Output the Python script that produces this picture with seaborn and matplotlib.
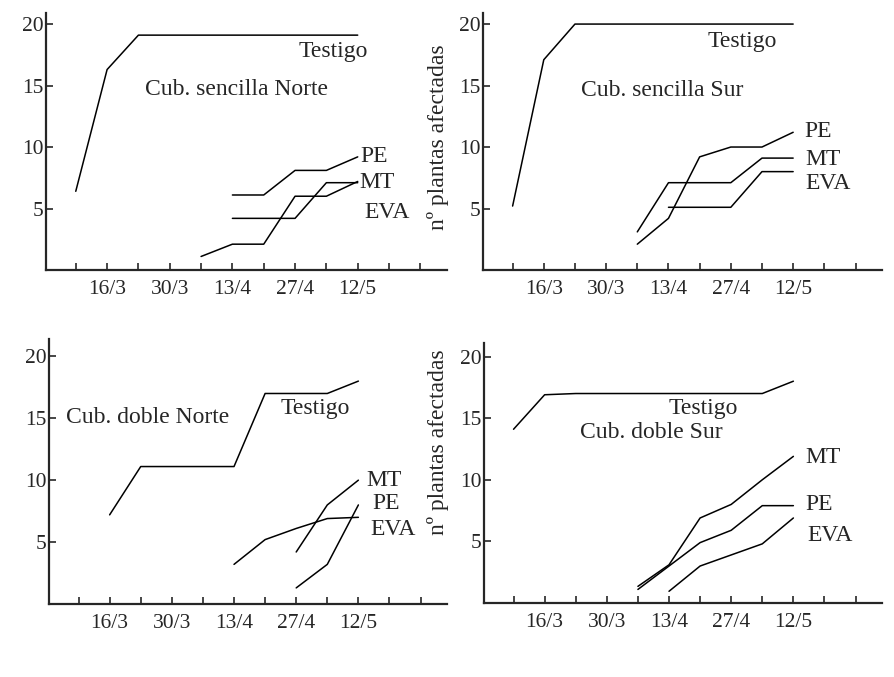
import numpy as np
import pandas as pd
import matplotlib
matplotlib.use("Agg")
import matplotlib.pyplot as plt
import seaborn as sns

nan = np.nan

# weeks from 9/3 (week 0) on, one step = 7 days
weeks = list(range(10))
tick_weeks = list(range(12))
tick_labels = ["", "16/3", "", "30/3", "", "13/4", "", "27/4", "", "12/5", "", ""]

# Cub. sencilla Norte
testigo_sn = [6.4, 16.3, 19.1, 19.1, 19.1, 19.1, 19.1, 19.1, 19.1, 19.1]
pe_sn = [nan, nan, nan, nan, nan, 6.1, 6.1, 8.1, 8.1, 9.2]
mt_sn = [nan, nan, nan, nan, nan, 4.2, 4.2, 4.2, 7.1, 7.1]
eva_sn = [nan, nan, nan, nan, 1.1, 2.1, 2.1, 6.0, 6.0, 7.2]

# Cub. sencilla Sur
testigo_ss = [5.2, 17.1, 20.0, 20.0, 20.0, 20.0, 20.0, 20.0, 20.0, 20.0]
pe_ss = [nan, nan, nan, nan, 2.1, 4.2, 9.2, 10.0, 10.0, 11.2]
mt_ss = [nan, nan, nan, nan, 3.1, 7.1, 7.1, 7.1, 9.1, 9.1]
eva_ss = [nan, nan, nan, nan, nan, 5.1, 5.1, 5.1, 8.0, 8.0]

# Cub. doble Norte
testigo_dn = [nan, 7.2, 11.1, 11.1, 11.1, 11.1, 17.0, 17.0, 17.0, 18.0]
mt_dn = [nan, nan, nan, nan, nan, nan, nan, 4.2, 8.0, 10.0]
pe_dn = [nan, nan, nan, nan, nan, nan, nan, 1.3, 3.2, 8.0]
eva_dn = [nan, nan, nan, nan, nan, 3.2, 5.2, 6.1, 6.9, 7.0]

# Cub. doble Sur
testigo_ds = [14.1, 16.9, 17.0, 17.0, 17.0, 17.0, 17.0, 17.0, 17.0, 18.0]
mt_ds = [nan, nan, nan, nan, 1.35, 3.1, 6.9, 8.0, 10.0, 11.9]
pe_ds = [nan, nan, nan, nan, 1.1, 3.0, 4.9, 5.9, 7.9, 7.9]
eva_ds = [nan, nan, nan, nan, nan, 0.95, 3.0, 3.9, 4.8, 6.9]

sns.set_style("ticks")
plt.rcParams["font.family"] = ["Liberation Serif", "DejaVu Serif"]

W, H = 894, 677
fig = plt.figure(figsize=(W / 100, H / 100), dpi=100)


def add_ax(left, top, right, bottom):
    return fig.add_axes([left / W, 1 - bottom / H, (right - left) / W, (bottom - top) / H])


# panel boxes in pixels: left, top, right, bottom
panels = [
    {"box": (46, 13, 447, 270), "ytop": 20.9,
     "series": [testigo_sn, pe_sn, mt_sn, eva_sn],
     "texts": [("Cub. sencilla Norte", 2.2, 14.7), ("Testigo", 7.1, 17.75),
               ("PE", 9.1, 9.2), ("MT", 9.05, 7.1), ("EVA", 9.2, 4.7)]},
    {"box": (483, 13, 882, 270), "ytop": 20.9,
     "series": [testigo_ss, pe_ss, mt_ss, eva_ss],
     "texts": [("Cub. sencilla Sur", 2.2, 14.6), ("Testigo", 6.25, 18.55),
               ("PE", 9.35, 11.3), ("MT", 9.4, 9.0), ("EVA", 9.4, 7.0)]},
    {"box": (49, 339, 447, 604), "ytop": 21.4,
     "series": [testigo_dn, mt_dn, pe_dn, eva_dn],
     "texts": [("Cub. doble Norte", -0.4, 15.1), ("Testigo", 6.5, 15.8),
               ("MT", 9.25, 10.0), ("PE", 9.45, 8.1), ("EVA", 9.38, 6.0)]},
    {"box": (484, 343, 882, 603), "ytop": 21.1,
     "series": [testigo_ds, mt_ds, pe_ds, eva_ds],
     "texts": [("Cub. doble Sur", 2.15, 13.8), ("Testigo", 5.0, 15.8),
               ("MT", 9.4, 11.8), ("PE", 9.37, 8.0), ("EVA", 9.45, 5.5)]},
]

for p in panels:
    ax = add_ax(*p["box"])
    for vals in p["series"]:
        sns.lineplot(x=weeks, y=vals, color="black", lw=1.1, ax=ax)
    for txt, tx, ty in p["texts"]:
        ax.text(tx, ty, txt, fontsize=17, ha="left", va="center")
    ax.set_xlim(-0.95, 11.85)
    ax.set_ylim(0, p["ytop"])
    ax.set_xticks(tick_weeks)
    ax.set_xticklabels(tick_labels)
    ax.set_yticks([5, 10, 15, 20])
    ax.tick_params(direction="in", length=5, width=1.2, labelsize=15.5)
    ax.tick_params(axis="x", pad=7)
    ax.tick_params(axis="y", pad=2)
    sns.despine(ax=ax)
    for s in ["left", "bottom"]:
        ax.spines[s].set_linewidth(1.6)

fig.text(438 / W, 1 - 137 / H, "nº plantas afectadas", rotation=90,
         fontsize=17, ha="center", va="center")
fig.text(438 / W, 1 - 442 / H, "nº plantas afectadas", rotation=90,
         fontsize=17, ha="center", va="center")

fig.savefig("out.png", dpi=100)
